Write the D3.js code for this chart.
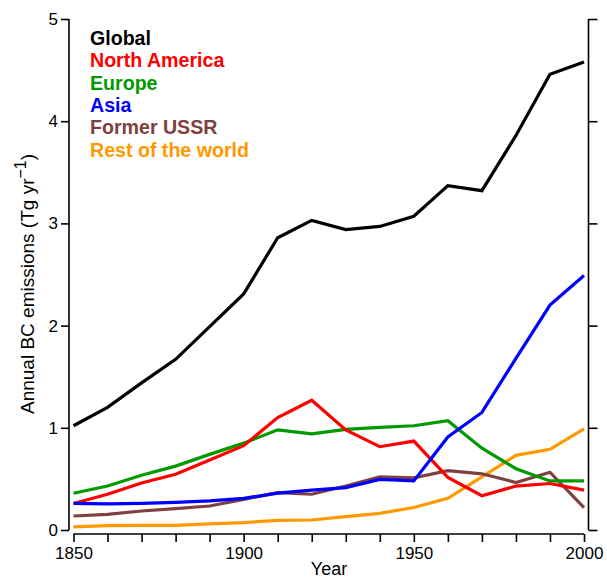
<!DOCTYPE html>
<html>
<head>
<meta charset="utf-8">
<script src="https://cdn.jsdelivr.net/npm/d3@7"></script>
<style>
  html, body { margin: 0; padding: 0; background: #fff; }
  svg { display: block; font-family: "Liberation Sans", Arial, sans-serif; }
</style>
</head>
<body>
<svg id="chart" width="607" height="578"></svg>
<script>
// Annual black-carbon emissions by region, 1850–2000 (Tg per year)
const years = [1850, 1860, 1870, 1880, 1890, 1900, 1910, 1920, 1930, 1940, 1950, 1960, 1970, 1980, 1990, 2000];

const globalBC       = [1.02, 1.20, 1.44, 1.67, 1.99, 2.31, 2.86, 3.03, 2.94, 2.97, 3.07, 3.37, 3.32, 3.86, 4.46, 4.58];
const northAmerica   = [0.26, 0.35, 0.46, 0.545, 0.685, 0.825, 1.10, 1.27, 0.98, 0.815, 0.87, 0.515, 0.335, 0.43, 0.455, 0.39];
const europe         = [0.36, 0.43, 0.535, 0.625, 0.74, 0.85, 0.98, 0.94, 0.985, 1.005, 1.02, 1.07, 0.80, 0.60, 0.48, 0.48];
const asia           = [0.26, 0.255, 0.26, 0.27, 0.285, 0.31, 0.36, 0.39, 0.415, 0.495, 0.48, 0.91, 1.15, 1.68, 2.20, 2.49];
const formerUSSR     = [0.137, 0.153, 0.186, 0.21, 0.235, 0.30, 0.365, 0.35, 0.43, 0.52, 0.51, 0.58, 0.55, 0.465, 0.565, 0.22];
const restOfWorld    = [0.03, 0.042, 0.045, 0.045, 0.059, 0.072, 0.095, 0.098, 0.13, 0.163, 0.22, 0.31, 0.52, 0.73, 0.79, 0.99];

const seriesNames  = ["Global", "North America", "Europe", "Asia", "Former USSR", "Rest of the world"];
const seriesColors = ["#000000", "#ff0000", "#009900", "#0000ff", "#7f4040", "#ff9900"];
const seriesValues = [globalBC, northAmerica, europe, asia, formerUSSR, restOfWorld];

const xTicks = [1850, 1900, 1950, 2000];
const yTicks = [0, 1, 2, 3, 4, 5];

const svg = d3.select("#chart");

const x = d3.scaleLinear().domain([1850, 2000]).range([73.5, 584]);
const y = d3.scaleLinear().domain([0, 5]).range([530, 19]);

const axisStroke = 1.6;

// left axis
const gLeft = svg.append("g").attr("transform", "translate(69,0)")
  .call(d3.axisLeft(y).tickValues(yTicks).tickFormat(d3.format("d")).tickSize(8).tickPadding(3));
// right axis (ticks only)
const gRight = svg.append("g").attr("transform", "translate(588.5,0)")
  .call(d3.axisRight(y).tickValues(yTicks).tickFormat("").tickSize(9));
// bottom axis with minor ticks every decade
const gBottom = svg.append("g").attr("transform", "translate(0,534)")
  .call(d3.axisBottom(x).tickValues(years).tickFormat(d => xTicks.includes(d) ? d : "").tickSize(8).tickPadding(5));

[gLeft, gRight, gBottom].forEach(g => {
  g.select(".domain").attr("stroke", "#000").attr("stroke-width", axisStroke);
  g.selectAll(".tick line").attr("stroke", "#000").attr("stroke-width", axisStroke);
  g.selectAll(".tick text").attr("fill", "#000").style("font-size", "17px")
    .style("font-family", "'Liberation Sans', Arial, sans-serif");
});
// plain axis lines without end caps
gLeft.select(".domain").attr("d", `M0,${y(5)}V${y(0)}`);
gRight.select(".domain").attr("d", `M0,${y(5)}V${y(0)}`);
gBottom.select(".domain").attr("d", `M${x(1850)},0H${x(2000)}`);

// data lines
const line = d3.line().x((d, i) => x(years[i])).y(d => y(d));
// regional series first, global on top
const drawOrder = [5, 4, 2, 1, 3, 0];
drawOrder.forEach(k => {
  svg.append("path")
    .datum(seriesValues[k])
    .attr("fill", "none")
    .attr("stroke", seriesColors[k])
    .attr("stroke-width", 3.2)
    .attr("stroke-linejoin", "miter")
    .attr("d", line);
});

// legend
const legend = svg.append("g");
seriesNames.forEach((name, i) => {
  legend.append("text")
    .attr("x", 90)
    .attr("y", 45 + i * 22.3)
    .attr("fill", seriesColors[i])
    .style("font-size", "19.6px")
    .style("font-weight", "bold")
    .text(name);
});

// axis titles
svg.append("text")
  .attr("x", 329).attr("y", 575)
  .attr("text-anchor", "middle")
  .style("font-size", "18px")
  .text("Year");

const yTitle = svg.append("text")
  .attr("transform", "translate(34,284) rotate(-90)")
  .attr("text-anchor", "middle")
  .style("font-size", "19px");
yTitle.append("tspan").text("Annual BC emissions (Tg yr");
yTitle.append("tspan").attr("dy", -8).style("font-size", "16px").text("\u22121");
yTitle.append("tspan").attr("dy", 8).text(")");
</script>
</body>
</html>
